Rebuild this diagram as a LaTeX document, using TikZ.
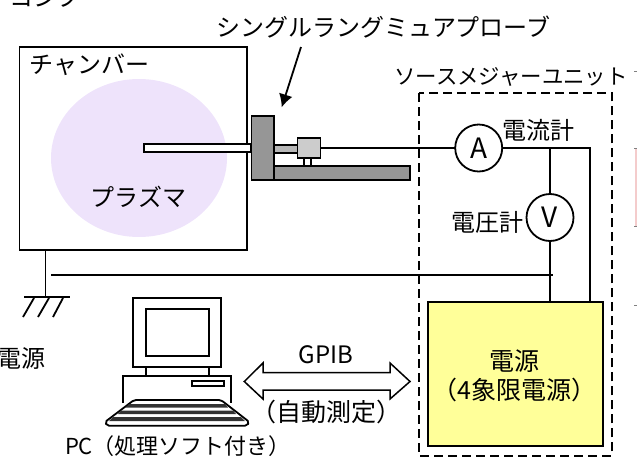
\documentclass[tikz,border=0pt]{standalone}
\usepackage{fontspec}
\setmainfont{Noto Sans CJK JP}
\usetikzlibrary{arrows.meta}
\definecolor{plasmacol}{HTML}{EEE3FB}
\definecolor{metalcol}{HTML}{969696}
\definecolor{stagecol}{HTML}{CCCCCC}
\definecolor{psucol}{HTML}{FFFF99}
\definecolor{edgecol}{HTML}{F4CCCC}
\tikzset{
    every node/.style={inner sep=0pt,outer sep=0pt},
    wire/.style={black,line width=1.8pt},
    lbl/.style={font=\fontsize{24}{29}\selectfont,text=black,align=center},
    part/.style={draw=black,line width=1.8pt,minimum width=#1},
    meter/.style={circle,draw=black,line width=1.8pt,minimum size=47pt,fill=white,font=\fontsize{28}{30}\selectfont},
}
\begin{document}
\begin{tikzpicture}[x=1pt,y=-1pt]
    \useasboundingbox (0,0) rectangle (637,458);
    % cut-off bits at the picture edges
    \node[lbl] (cutoff) at (45,-3) {コンプ};
    \draw [gray] (634,70.7) -- (637,70.7);
    \fill [edgecol] (634.5,148.5) rectangle (637,226.5);
    \draw [gray] (634,148.5) -- (637,148.5);
    \draw [gray] (634,226.5) -- (637,226.5);
    \draw [gray] (634,304.7) -- (637,304.7);
    % chamber
    \node[part=227.5pt,minimum height=203pt] (chamber) at (133.25,148.5) {};
    \fill [plasmacol] (139,158) ellipse (88 and 79);
    \node[lbl] (chamberlbl) at (89.5,65) {チャンバー};
    \node[lbl] (plasmalbl) at (138.5,197) {プラズマ};
    % probe
    \node[part=107.5pt,minimum height=7.5pt,fill=white] (tube) at (197.5,148) {};
    \node[part=136pt,minimum height=14.5pt,fill=metalcol] (rail) at (342,173) {};
    \node[part=23pt,minimum height=8pt,fill=stagecol!90!black] (rod) at (286,149) {};
    \node[part=22.5pt,minimum height=64pt,fill=metalcol] (flange) at (262.75,148) {};
    \node[part=23pt,minimum height=20pt,fill=stagecol] (stage) at (309,147.7) {};
    \draw [wire,line width=1.2pt] (304,157.7) -- (304,166);
    \draw [wire,line width=1.2pt] (311,157.7) -- (311,166);
    \node[lbl] (probelbl) at (383.5,27) {シングルラングミュアプローブ};
    \coordinate (probefrom) at (301,47);
    \coordinate (probeto) at (281.7,107.3);
    \draw [wire,-{Latex[length=13pt,width=14pt]}] (probefrom) -- (probeto);
    % source measure unit
    \node[lbl,font=\fontsize{21.4}{26}\selectfont] (smulbl) at (511,77) {ソースメジャーユニット};
    \draw [black,line width=1.8pt,dash pattern=on 9pt off 5pt] (418.7,93) rectangle (611.7,455.7);
    \node[part=175pt,minimum height=144pt,fill=psucol] (psu) at (515.5,373.7) {};
    \node[lbl,font=\fontsize{25}{29}\selectfont] (psulbl) at (514.5,375.5) {電源\\（4象限電源）};
    \node[meter] (A) at (478.7,148) {A};
    \node[meter] (V) at (550,217.5) {V};
    \node[lbl] (amlbl) at (538,130) {電流計};
    \node[lbl] (vmlbl) at (487,222) {電圧計};
    \coordinate (corner) at (590,148);
    \coordinate (branch) at (V |- A);
    \draw [wire] (stage.east |- A) -- (A);
    \draw [wire] (A) -- (corner) -- (corner |- psu.north);
    \draw [wire] (branch) -- (V);
    \draw [wire] (V) -- (V |- psu.north);
    % ground
    \coordinate (gndtop) at (45.5,250);
    \coordinate (gnd) at (45.5,297);
    \coordinate (returnl) at (51,275);
    \coordinate (returnr) at (552.5,275);
    \draw [wire] (gndtop) -- (gnd);
    \draw [wire] (24,297) -- (70,297);
    \draw [wire] (63,298) -- (53,317);
    \draw [wire] (49,298) -- (38,317);
    \draw [wire] (34,298) -- (23,317);
    \draw [wire] (returnl) -- (returnr);
    \node[lbl] (mainslbl) at (22,358) {電源};
    % pc
    \node[part=87.5pt,minimum height=69pt] (monitor) at (177,332.8) {};
    \node[part=63pt,minimum height=46.7pt] (screen) at (177.2,332.7) {};
    \draw [wire] (145.7,367.3) -- (145.7,375.7);
    \draw [wire] (208.7,367.3) -- (208.7,375.7);
    \draw [wire] (123,403) -- (123,375.7) -- (230.7,375.7) -- (230.7,403);
    \node[part=32pt,minimum height=4.5pt] (slot) at (208.3,383.5) {};
    \draw [wire,fill=white,rounded corners=2pt] (134,400) -- (221,400) -- (249.3,422) -- (247,425.7) -- (107,425.7) -- (105,422) -- cycle;
    \fill [black!80] (129,404) -- (225,404) -- (228,407.5) -- (126,407.5) -- cycle;
    \fill [black!80] (121,410.5) -- (233,410.5) -- (236,414) -- (118,414) -- cycle;
    \fill [black!80] (113,417) -- (241,417) -- (245,421) -- (109,421) -- cycle;
    \node[lbl,font=\fontsize{22}{24}\selectfont] (pclbl) at (178,446.5) {PC（処理ソフト付き）};
    % gpib
    \draw [wire,fill=white,line width=1.5pt] (244.3,381.5) -- (263,363) -- (263,372.7) -- (390,372.7) -- (390,363) -- (410,381.5) -- (390,399) -- (390,390) -- (263,390) -- (263,399) -- cycle;
    \node[lbl,font=\fontsize{24}{24}\selectfont] (gpiblbl) at (326,355) {GPIB};
    \node[lbl,font=\fontsize{25}{29}\selectfont] (autolbl) at (326,412) {（自動測定）};
\end{tikzpicture}
\end{document}
